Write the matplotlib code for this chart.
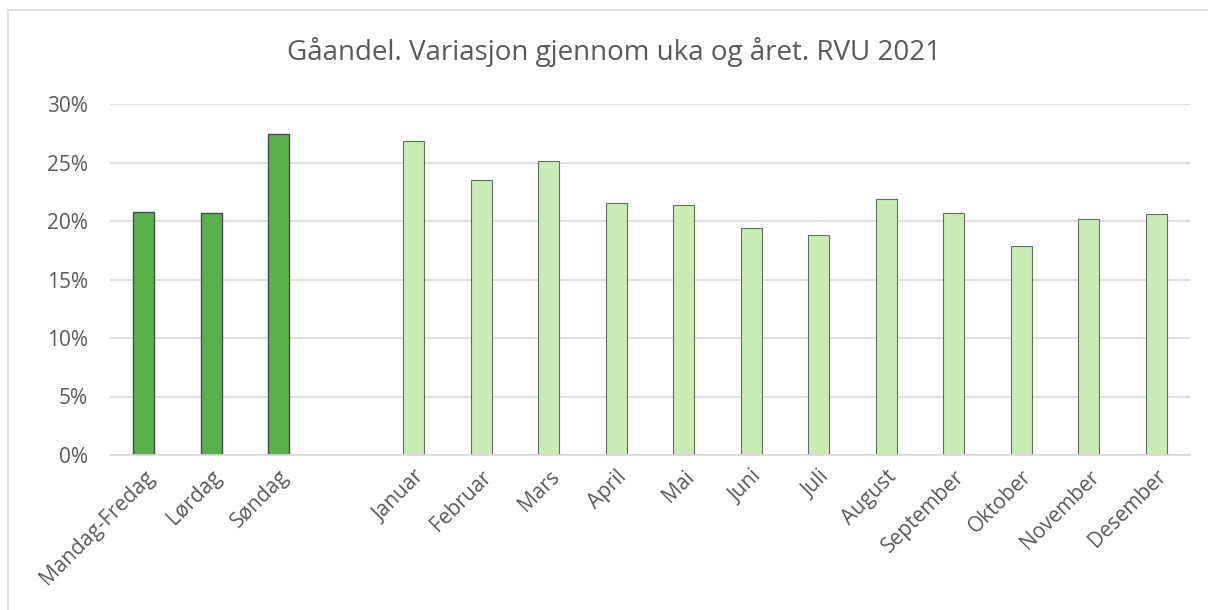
import matplotlib
matplotlib.use("Agg")
import matplotlib.pyplot as plt
from matplotlib.patches import Rectangle

title = "Gåandel. Variasjon gjennom uka og året. RVU 2021"
week_labels = ["Mandag-Fredag", "Lørdag", "Søndag"]
week_values = [20.8, 20.7, 27.4]
month_labels = ["Januar", "Februar", "Mars", "April", "Mai", "Juni", "Juli",
                "August", "September", "Oktober", "November", "Desember"]
month_values = [26.8, 23.5, 25.1, 21.5, 21.4, 19.4, 18.8, 21.9, 20.7, 17.9, 20.2, 20.6]
yticks = [0, 5, 10, 15, 20, 25, 30]

plt.rcParams['font.family'] = ['Open Sans', 'DejaVu Sans']

W, H = 1208, 610
fig = plt.figure(figsize=(W/100, H/100), dpi=100)
fig.patches.append(Rectangle((8/W, -0.1), 1.2, (H-10)/H + 0.1, transform=fig.transFigure,
                             fill=False, edgecolor='#d9d9d9', linewidth=1.2))

ax = fig.add_axes([110/W, (H-455)/H, (1190-110)/W, (455-104)/H])

labels = week_labels + [""] + month_labels
n = len(labels)
xw = list(range(len(week_labels)))
xm = [len(week_labels) + 1 + i for i in range(len(month_labels))]

bw = 0.31
ax.bar(xw, week_values, width=bw, color='#5ab14c', edgecolor='#3f4f4f', linewidth=1.0, zorder=3)
ax.bar(xm, month_values, width=bw, color='#c9ebb4', edgecolor='#5f6f5f', linewidth=0.8, zorder=3)

ax.set_xlim(-0.5, n - 0.5)
ax.set_ylim(0, 30)
ax.set_yticks(yticks)
ax.set_yticklabels([f"{v}%" for v in yticks], fontsize=15, color='#595959')
ax.set_xticks(xw + xm)
ax.set_xticklabels(week_labels + month_labels, rotation=45, ha='right', rotation_mode='anchor',
                   fontsize=15, color='#595959')
ax.tick_params(axis='y', length=0, pad=16)
ax.tick_params(axis='x', length=0, pad=8)
ax.grid(axis='y', color='#d9d9d9', linewidth=1.2, zorder=0)
for s in ['top', 'right', 'left']:
    ax.spines[s].set_visible(False)
ax.spines['bottom'].set_color('#d9d9d9')
ax.spines['bottom'].set_linewidth(1.2)
ax.spines['bottom'].set_zorder(4)

fig.text(614/W, 1 - 52/H, title, ha='center', va='center', fontsize=20, color='#595959')

fig.savefig("out.png", dpi=100)
